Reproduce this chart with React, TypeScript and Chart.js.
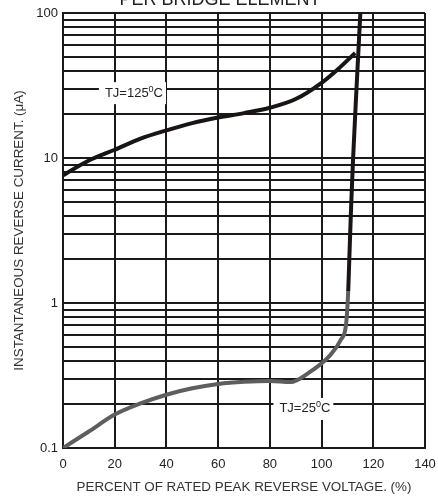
import React, { useEffect, useRef } from 'react';
import { Chart, registerables } from 'chart.js';

Chart.register(...registerables);

// ---- data ----
const voltagePct125 = [0, 10, 20, 30, 40, 50, 60, 70, 80, 90, 100, 107, 113];
const current125 = [7.6, 9.6, 11.4, 13.6, 15.5, 17.4, 19.0, 20.4, 22.2, 25.5, 33, 42, 53];

const voltagePct25 = [0, 10, 20, 30, 40, 50, 60, 70, 80, 88, 95, 103, 107.5, 109.5, 110.3, 110.8, 111.5, 112.2, 113.5, 115];
const current25 = [0.1, 0.13, 0.17, 0.203, 0.233, 0.258, 0.276, 0.286, 0.29, 0.285, 0.33, 0.43, 0.56, 0.72, 1.2, 2.2, 5, 10, 30, 100];

const xTickValues = [0, 20, 40, 60, 80, 100, 120, 140];
const yGridValues = [
  0.1, 0.2, 0.3, 0.4, 0.5, 0.6, 0.7, 0.8, 0.9,
  1, 2, 3, 4, 5, 6, 7, 8, 9,
  10, 20, 30, 40, 50, 60, 70, 80, 90,
  100,
];
const yMajorValues = [0.1, 1, 10, 100];
const yTickLabels = ['0.1', '1', '10', '100'];

const curveLabels = ['TJ=125', 'TJ=25'];
const curveLabelX = [16.2, 83.7];
const curveLabelY = [28, 0.186];

const chartTitle = 'PER BRIDGE ELEMENT';
const xAxisTitle = 'PERCENT OF RATED PEAK REVERSE VOLTAGE. (%)';
const yAxisTitle = 'INSTANTANEOUS REVERSE CURRENT. (\u03BCA)';

const FONT = '"Liberation Sans", Arial, sans-serif';
const GRID = '#1a1a1a';
const BLACK = '#1a1515';
const GRAY = '#5e5e5e';

const textPlugin = {
  id: 'textPlugin',
  beforeDatasetsDraw(chart: any) {
    const ctx = chart.ctx as CanvasRenderingContext2D;
    const xs = chart.scales.x;
    const ys = chart.scales.y;
    ctx.save();
    curveLabels.forEach((lab, i) => {
      const px = xs.getPixelForValue(curveLabelX[i]);
      const py = ys.getPixelForValue(curveLabelY[i]);
      ctx.font = `13px ${FONT}`;
      const w1 = ctx.measureText(lab).width;
      ctx.font = `9px ${FONT}`;
      const w2 = ctx.measureText('0').width;
      ctx.font = `13px ${FONT}`;
      const w3 = ctx.measureText('C').width;
      const total = w1 + w2 + w3;
      ctx.fillStyle = '#ffffff';
      ctx.fillRect(px - 6, py - 11, total + 9, 22);
      ctx.fillStyle = '#222';
      ctx.textBaseline = 'middle';
      ctx.textAlign = 'left';
      ctx.fillText(lab, px, py);
      ctx.font = `9px ${FONT}`;
      ctx.fillText('0', px + w1, py - 4);
      ctx.font = `13px ${FONT}`;
      ctx.fillText('C', px + w1 + w2, py);
    });
    ctx.restore();
  },
  afterDraw(chart: any) {
    const ctx = chart.ctx as CanvasRenderingContext2D;
    const area = chart.chartArea;
    ctx.save();
    ctx.fillStyle = '#222';
    ctx.textAlign = 'center';
    ctx.textBaseline = 'alphabetic';
    ctx.font = `18px ${FONT}`;
    ctx.fillText(chartTitle, 220, 5);
    ctx.font = `13.4px ${FONT}`;
    ctx.textBaseline = 'middle';
    ctx.fillStyle = '#333';
    ctx.fillText(xAxisTitle, 244, 487);
    ctx.translate(19, (area.top + area.bottom) / 2);
    ctx.rotate(-Math.PI / 2);
    ctx.fillText(yAxisTitle, 0, 0);
    ctx.restore();
  },
};

export default function App() {
  const ref = useRef<HTMLCanvasElement | null>(null);

  useEffect(() => {
    if (!ref.current) return;
    const chart = new Chart(ref.current, {
      type: 'line',
      data: {
        datasets: [
          {
            label: 'TJ=125°C',
            data: voltagePct125.map((x, i) => ({ x, y: current125[i] })),
            borderColor: BLACK,
            borderWidth: 4,
            pointRadius: 0,
            cubicInterpolationMode: 'monotone',
            fill: false,
          },
          {
            label: 'TJ=25°C',
            data: voltagePct25.map((x, i) => ({ x, y: current25[i] })),
            borderColor: GRAY,
            borderWidth: 4,
            pointRadius: 0,
            cubicInterpolationMode: 'monotone',
            fill: false,
            segment: {
              borderColor: (c: any) => (c.p0.parsed.y >= 1.2 ? BLACK : GRAY),
            },
          },
        ],
      },
      options: {
        animation: false,
        responsive: false,
        devicePixelRatio: 1,
        layout: { padding: { top: 13, right: 13, left: 0, bottom: 0 } },
        plugins: {
          legend: { display: false },
          tooltip: { enabled: false },
          title: { display: false },
        },
        scales: {
          x: {
            type: 'linear',
            min: 0,
            max: 140,
            afterBuildTicks: (s: any) => {
              s.ticks = xTickValues.map((v) => ({ value: v }));
            },
            afterFit: (s: any) => {
              s.height = 50;
              s.paddingLeft = 0;
              s.paddingRight = 0;
            },
            ticks: {
              autoSkip: false,
              maxRotation: 0,
              padding: 9,
              color: '#222',
              font: { family: FONT, size: 13 },
              callback: (v: any) => String(v),
            },
            grid: { color: GRID, lineWidth: 2, drawTicks: false },
            border: { display: true, color: GRID, width: 2 },
          },
          y: {
            type: 'logarithmic',
            min: 0.1,
            max: 100,
            afterBuildTicks: (s: any) => {
              s.ticks = yGridValues.map((v) => ({ value: v }));
            },
            afterFit: (s: any) => {
              s.width = 63;
              s.paddingTop = 0;
              s.paddingBottom = 0;
            },
            ticks: {
              autoSkip: false,
              padding: 5,
              color: '#222',
              font: { family: FONT, size: 13 },
              callback: (v: any) => {
                const i = yMajorValues.findIndex((m) => Math.abs(m - Number(v)) < 1e-9);
                return i >= 0 ? yTickLabels[i] : '';
              },
            },
            grid: { color: GRID, lineWidth: 2, drawTicks: false },
            border: { display: true, color: GRID, width: 2 },
          },
        },
      },
      plugins: [textPlugin],
    } as any);
    return () => chart.destroy();
  }, []);

  return (
    <div style={{ position: 'absolute', left: 0, top: 0, width: 438, height: 498, background: '#fff' }}>
      <canvas ref={ref} width={438} height={498} style={{ width: 438, height: 498, display: 'block' }} />
    </div>
  );
}
